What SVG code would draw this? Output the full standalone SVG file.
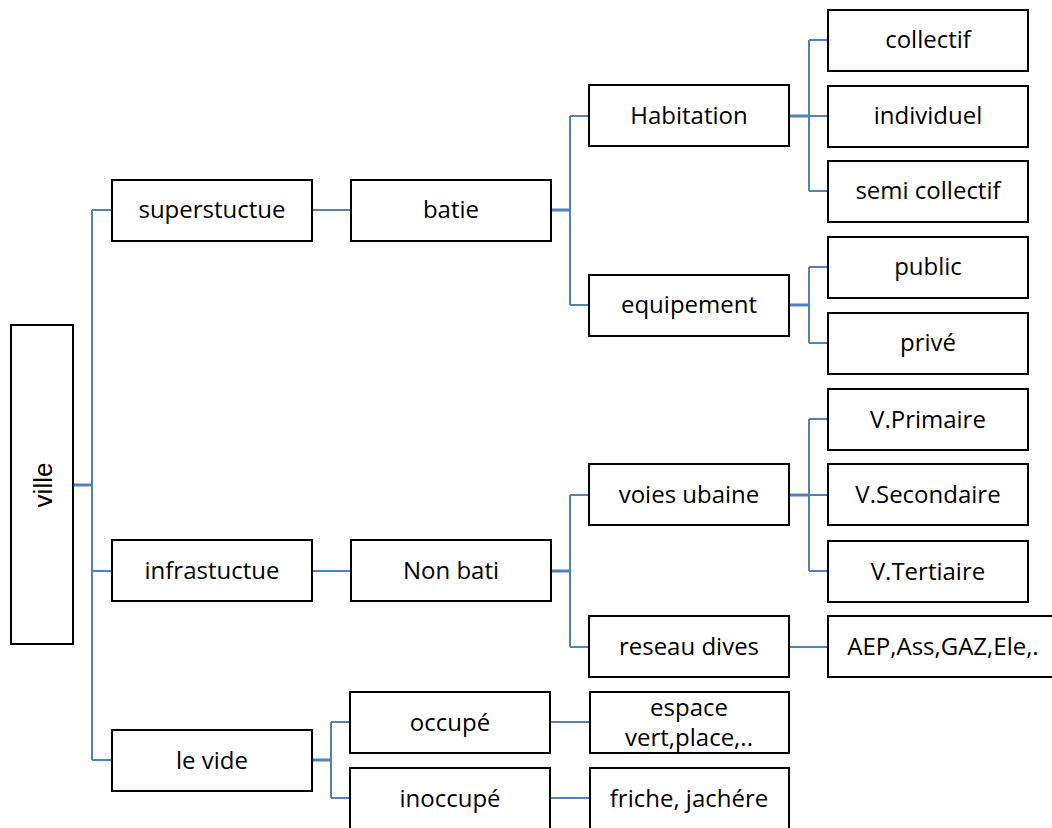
<svg xmlns="http://www.w3.org/2000/svg" width="1052" height="828" viewBox="0 0 1052 828">
<style>
.box{fill:#fff;stroke:#000;stroke-width:2}
.t{font-family:"Open Sans","Noto Sans",sans-serif;font-size:24px;fill:#000;text-anchor:middle}
.tv{font-family:"Liberation Sans",Arial,sans-serif;font-size:26px;fill:#000;text-anchor:middle}
.c{fill:none;stroke:#4f81bd;stroke-width:2}
.cs{fill:none;stroke:#4f81bd;stroke-width:3}
</style>
<rect width="1052" height="828" fill="#fff"/>
<g id="connectors">
<path class="cs" d="M73 485H92"/>
<path class="c" d="M92 210V760M92 210H112M92 571H112M92 760H112"/>
<path class="c" d="M312 210H351"/>
<path class="cs" d="M551 210H570"/>
<path class="c" d="M570 116V305M570 116H589M570 305H589"/>
<path class="cs" d="M789 116H809"/>
<path class="c" d="M809 40V191M809 40H828M809 116H828M809 191H828"/>
<path class="cs" d="M789 305H809"/>
<path class="c" d="M809 267V343M809 267H828M809 343H828"/>
<path class="c" d="M312 571H351"/>
<path class="cs" d="M551 571H570"/>
<path class="c" d="M570 495V647M570 495H589M570 647H589"/>
<path class="cs" d="M789 495H809"/>
<path class="c" d="M809 419V571M809 419H828M809 495H828M809 571H828"/>
<path class="c" d="M789 647H828"/>
<path class="cs" d="M312 760H331"/>
<path class="c" d="M331 722V798M331 722H350M331 798H350"/>
<path class="c" d="M550 722H590M550 798H590"/>
</g>
<g id="ville"><rect class="box" x="11" y="325" width="62" height="319"/><text class="tv" transform="translate(52,485) rotate(-90)">ville</text></g>
<g id="superstuctue"><rect class="box" x="112" y="180" width="200" height="61"/><text class="t" x="212" y="218">superstuctue</text></g>
<g id="batie"><rect class="box" x="351" y="180" width="200" height="61"/><text class="t" x="451" y="218">batie</text></g>
<g id="habitation"><rect class="box" x="589" y="85" width="200" height="61"/><text class="t" x="689" y="124">Habitation</text></g>
<g id="equipement"><rect class="box" x="589" y="275" width="200" height="61"/><text class="t" x="689" y="313">equipement</text></g>
<g id="collectif"><rect class="box" x="828" y="10" width="200" height="61"/><text class="t" x="928" y="48">collectif</text></g>
<g id="individuel"><rect class="box" x="828" y="86" width="200" height="61"/><text class="t" x="928" y="124">individuel</text></g>
<g id="semi-collectif"><rect class="box" x="828" y="161" width="200" height="61"/><text class="t" x="928" y="199">semi collectif</text></g>
<g id="public"><rect class="box" x="828" y="237" width="200" height="61"/><text class="t" x="928" y="275">public</text></g>
<g id="prive"><rect class="box" x="828" y="313" width="200" height="61"/><text class="t" x="928" y="351">privé</text></g>
<g id="infrastuctue"><rect class="box" x="112" y="540" width="200" height="61"/><text class="t" x="212" y="579">infrastuctue</text></g>
<g id="non-bati"><rect class="box" x="351" y="540" width="200" height="61"/><text class="t" x="451" y="579">Non bati</text></g>
<g id="voies-ubaine"><rect class="box" x="589" y="464" width="200" height="61"/><text class="t" x="689" y="503">voies ubaine</text></g>
<g id="reseau-dives"><rect class="box" x="589" y="616" width="200" height="61"/><text class="t" x="689" y="655">reseau dives</text></g>
<g id="v-primaire"><rect class="box" x="828" y="389" width="200" height="61"/><text class="t" x="928" y="428">V.Primaire</text></g>
<g id="v-secondaire"><rect class="box" x="828" y="464" width="200" height="61"/><text class="t" x="928" y="503">V.Secondaire</text></g>
<g id="v-tertiaire"><rect class="box" x="828" y="541" width="200" height="61"/><text class="t" x="928" y="580">V.Tertiaire</text></g>
<g id="aep"><rect class="box" x="828" y="616" width="231" height="61"/><text class="t" x="943" y="655">AEP,Ass,GAZ,Ele,.</text></g>
<g id="le-vide"><rect class="box" x="112" y="730" width="200" height="61"/><text class="t" x="212" y="769">le vide</text></g>
<g id="occupe"><rect class="box" x="350" y="692" width="200" height="61"/><text class="t" x="450" y="731">occupé</text></g>
<g id="inoccupe"><rect class="box" x="350" y="768" width="200" height="61"/><text class="t" x="450" y="807">inoccupé</text></g>
<g id="espace"><rect class="box" x="590" y="692" width="199" height="61"/><text class="t" x="689" y="716">espace</text><text class="t" x="689" y="746">vert,place,..</text></g>
<g id="friche"><rect class="box" x="590" y="768" width="199" height="61"/><text class="t" x="689" y="807">friche, jachére</text></g>
</svg>
